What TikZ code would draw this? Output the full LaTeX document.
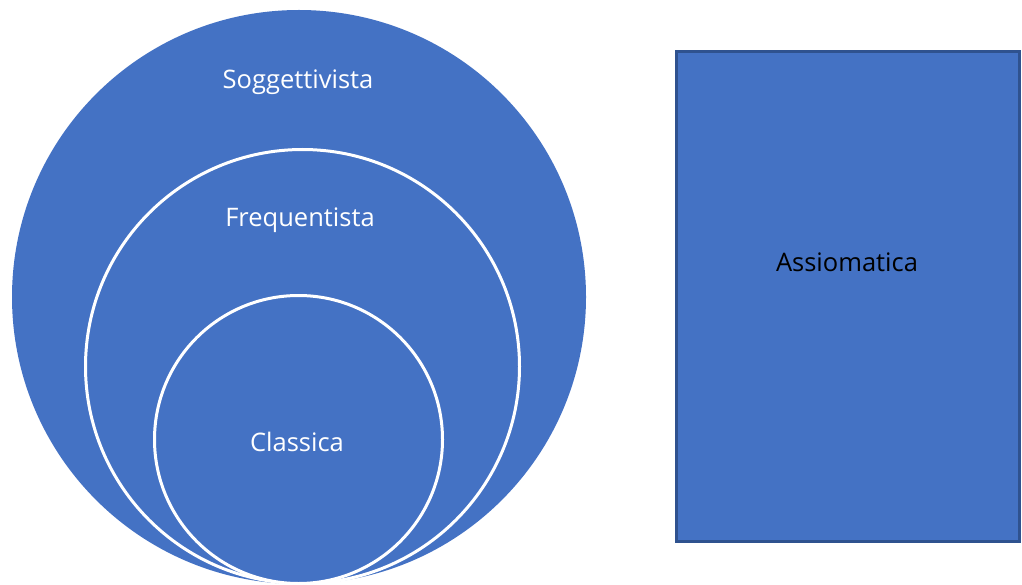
\documentclass[tikz,border=0pt]{standalone}
\usepackage{fontspec}
\setmainfont{Open Sans}
\definecolor{ofill}{HTML}{4472C4}
\definecolor{oline}{HTML}{2F528F}
\begin{document}
\begin{tikzpicture}[x=1pt,y=-1pt,
  setc/.style={circle,fill=ofill,draw=white,line width=3pt,inner sep=0pt},
  lbl/.style={font=\fontsize{25.5}{30}\selectfont,text=white},
  box/.style={fill=ofill,draw=oline,line width=3pt}]
\useasboundingbox (0,0) rectangle (1022,585);
\fill[ofill] (299,297) circle (287);
\draw[setc] (302.5,366.5) circle (217);
\draw[setc] (298.5,439.5) circle (144);
\node[lbl] (sog) at (298,82) {Soggettivista};
\node[lbl] (freq) at (300,220) {Frequentista};
\node[lbl] (cla) at (297,442) {Classica};
\draw[box] (676.5,51.5) rectangle (1019.5,541.5);
\node[lbl,text=black] (ass) at (847,262) {Assiomatica};
\end{tikzpicture}
\end{document}
